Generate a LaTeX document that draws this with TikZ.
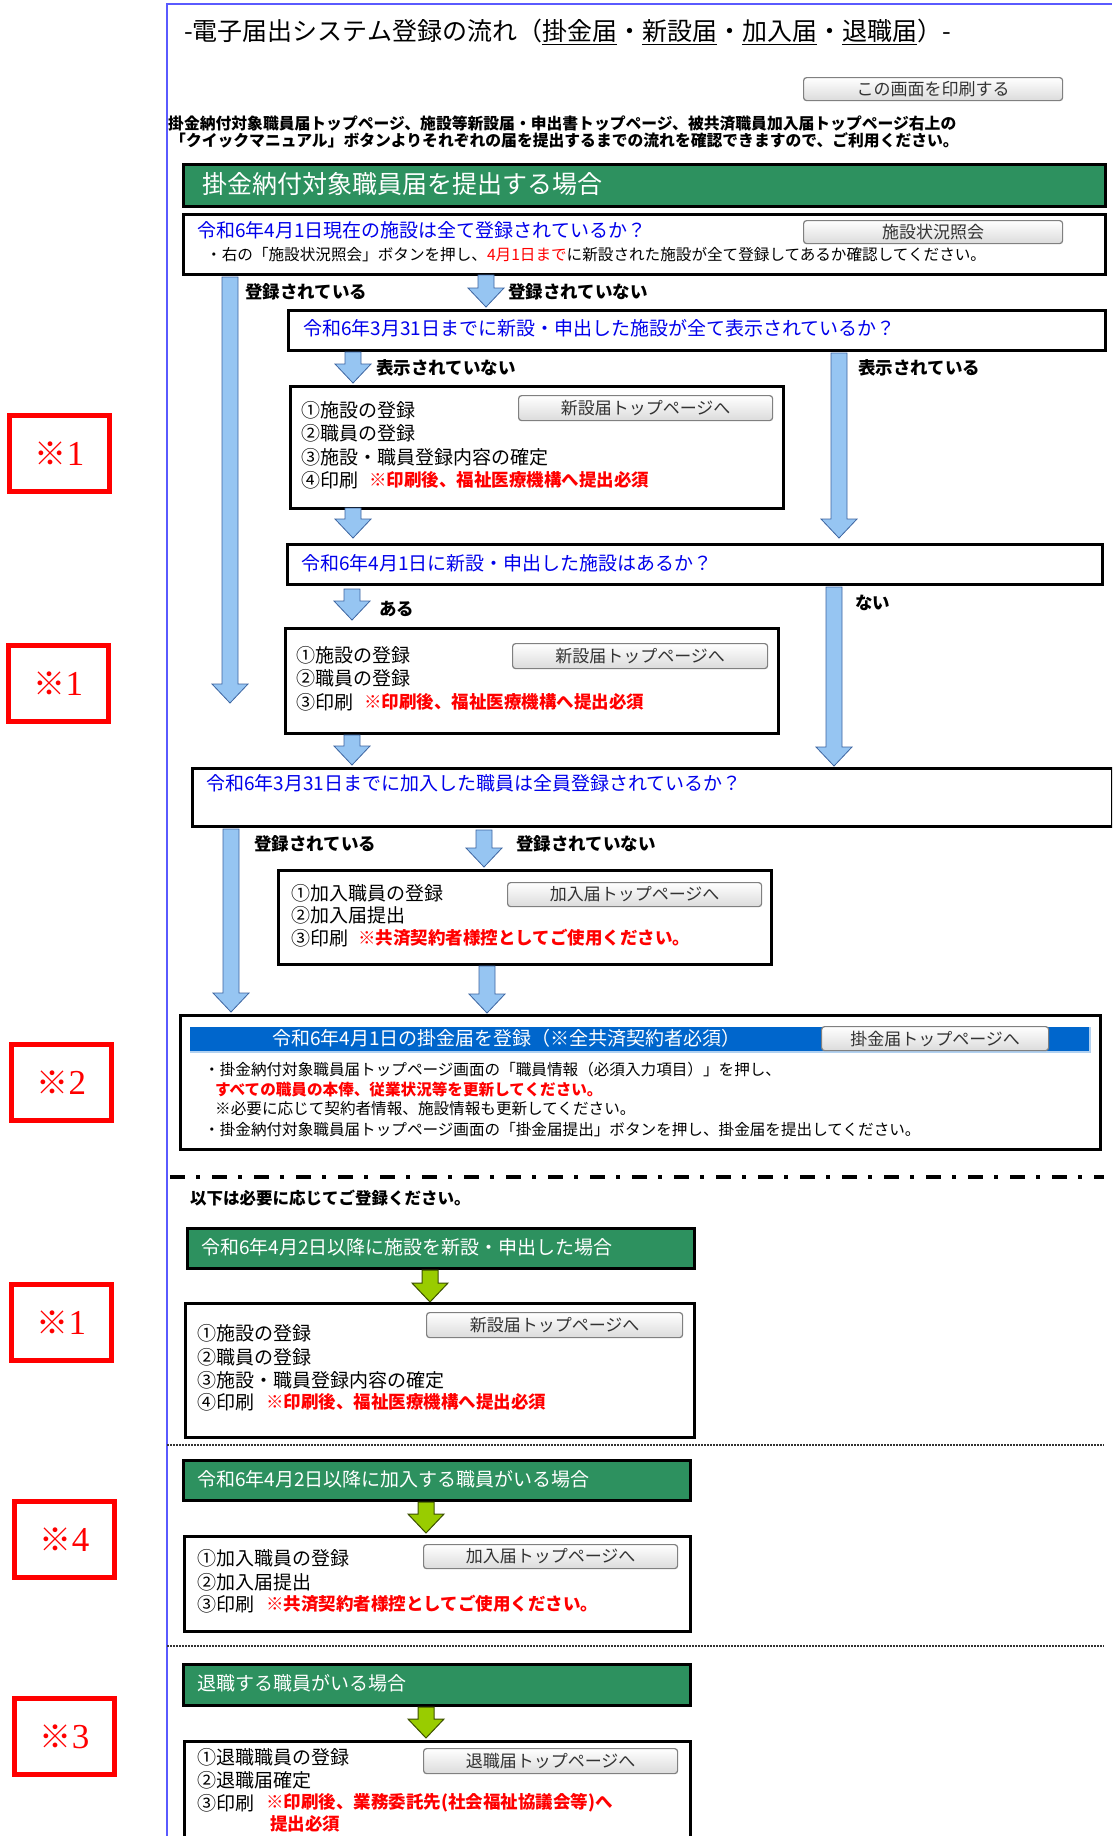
\documentclass[tikz,border=0pt]{standalone}
\usepackage{fontspec}
\setmainfont{Noto Sans CJK JP}
\newfontfamily\serifd{Liberation Serif}
\usetikzlibrary{calc}
\newcommand{\fsz}[1]{\fontsize{#1pt}{#1pt}\selectfont}
\definecolor{qblue}{RGB}{0,0,235}
\definecolor{myred}{RGB}{255,0,0}
\definecolor{greenbar}{RGB}{45,145,95}
\definecolor{hdrblue}{RGB}{0,102,204}
\definecolor{arrfill}{RGB}{150,197,242}
\definecolor{arrline}{RGB}{60,100,160}
\definecolor{garrfill}{RGB}{153,204,0}
\definecolor{garrline}{RGB}{60,80,0}
\definecolor{frameblue}{RGB}{90,90,255}
\definecolor{btnline}{RGB}{128,128,128}
\tikzset{
  qbox/.style={draw=black, line width=3, fill=white, anchor=north west, inner sep=0},
  gbar/.style={draw=black, line width=3, fill=greenbar, anchor=north west, inner sep=0},
  btn/.style={draw=btnline, line width=1.2, rounded corners=3, top color=white, bottom color=black!14, anchor=north west, inner sep=0, text=black!80, font=\fsz{17}},
  itm/.style={anchor=west, inner sep=0, font=\fsz{19}},
  nte/.style={anchor=west, inner sep=0, font=\fsz{17.5}\bfseries, text=myred},
  lbl/.style={anchor=west, inner sep=0, font=\fsz{17.5}\bfseries},
  qtx/.style={anchor=west, inner sep=0, font=\fsz{19}, text=qblue},
  smt/.style={anchor=west, inner sep=0, font=\fsz{15.6}},
  wtx/.style={anchor=west, inner sep=0, text=white},
  rbox/.style={draw=myred, line width=5, anchor=north west, inner sep=0, minimum width=100, minimum height=76, text=myred},
  arrb/.style={fill=arrfill, draw=arrline, line width=0.8},
  arrg/.style={fill=garrfill, draw=garrline, line width=1},
}
\newcommand{\blkarrow}[4]{%
  \draw[#1] ({#2-8},#3) -- ({#2+8},#3) -- ({#2+8},{#4-19}) -- ({#2+18},{#4-19}) -- (#2,#4) -- ({#2-18},{#4-19}) -- ({#2-8},{#4-19}) -- cycle;}
\newcommand{\kome}[1]{{\fsz{32}\bfseries ※}{\serifd\fsz{35}#1}}
\begin{document}
\begin{tikzpicture}[x=1pt,y=-1pt]
\useasboundingbox (0,0) rectangle (1112,1836);
\clip (0,0) rectangle (1112,1836);
\fill[white] (0,0) rectangle (1112,1836);
\draw[frameblue, line width=1.5] (167,1836) -- (167,4) -- (1112,4);

% title and intro
\node[anchor=west, inner sep=0, font=\fsz{25}] (title) at (184,32) {-電子届出システム登録の流れ（\underline{掛金届}・\underline{新設届}・\underline{加入届}・\underline{退職届}）-};
\node[btn, minimum width=259, minimum height=23] (bprint) at (803,77) {この画面を印刷する};
\node[anchor=west, inner sep=0, font=\fsz{15.8}\bfseries] (intro1) at (168,123) {掛金納付対象職員届トップページ、施設等新設届・申出書トップページ、被共済職員加入届トップページ右上の};
\node[anchor=west, inner sep=0, font=\fsz{15.8}\bfseries] (intro2) at (170,140) {「クイックマニュアル」ボタンよりそれぞれの届を提出するまでの流れを確認できますので、ご利用ください。};

% green bar 1
\node[gbar, minimum width=922, minimum height=42] (g1) at (182,163) {};
\node[wtx, font=\fsz{25}] (g1t) at (202,184) {掛金納付対象職員届を提出する場合};

% box 1
\node[qbox, minimum width=922, minimum height=60] (q1) at (182,213) {};
\node[qtx] (q1t) at (197,230) {令和6年4月1日現在の施設は全て登録されているか？};
\node[btn, minimum width=259, minimum height=23] (bq1) at (803,220) {施設状況照会};
\node[smt] (q1s) at (206,255) {・右の「施設状況照会」ボタンを押し、\textcolor{myred}{4月1日まで}に新設された施設が全て登録してあるか確認してください。};

% arrows row 1
\blkarrow{arrb}{230}{277}{703}
\blkarrow{arrb}{486}{275}{307}
\node[lbl] (l1a) at (245,292) {登録されている};
\node[lbl] (l1b) at (508,292) {登録されていない};

% box 2
\node[qbox, minimum width=817, minimum height=40] (q2) at (287,309) {};
\node[qtx] (q2t) at (303,328) {令和6年3月31日までに新設・申出した施設が全て表示されているか？};

\blkarrow{arrb}{353}{352}{383}
\blkarrow{arrb}{839}{353}{538}
\node[lbl] (l2a) at (376,368) {表示されていない};
\node[lbl] (l2b) at (858,368) {表示されている};

% box 3
\node[qbox, minimum width=493, minimum height=122] (q3) at (289,385) {};
\node[btn, minimum width=254, minimum height=25] (bq3) at (518,395) {新設届トップページへ};
\node[itm] (q3a) at (301,410) {①施設の登録};
\node[itm] (q3b) at (301,433) {②職員の登録};
\node[itm] (q3c) at (301,457) {③施設・職員登録内容の確定};
\node[itm] (q3d) at (301,480) {④印刷};
\node[nte] (q3n) at (369,480) {※印刷後、福祉医療機構へ提出必須};

\blkarrow{arrb}{353}{508}{538}

% box 4
\node[qbox, minimum width=815, minimum height=40] (q4) at (286,543) {};
\node[qtx] (q4t) at (301,563) {令和6年4月1日に新設・申出した施設はあるか？};

\blkarrow{arrb}{352}{589}{620}
\blkarrow{arrb}{834}{587}{766}
\node[lbl] (l3a) at (379,609) {ある};
\node[lbl] (l3b) at (855,603) {ない};

% box 5
\node[qbox, minimum width=493, minimum height=105] (q5) at (284,627) {};
\node[btn, minimum width=255, minimum height=25] (bq5) at (512,643) {新設届トップページへ};
\node[itm] (q5a) at (296,655) {①施設の登録};
\node[itm] (q5b) at (296,678) {②職員の登録};
\node[itm] (q5c) at (296,702) {③印刷};
\node[nte] (q5n) at (364,702) {※印刷後、福祉医療機構へ提出必須};

\blkarrow{arrb}{352}{735}{765}

% box 6
\node[qbox, minimum width=920, minimum height=58] (q6) at (191,767) {};
\node[qtx] (q6t) at (206,783) {令和6年3月31日までに加入した職員は全員登録されているか？};

\blkarrow{arrb}{231}{829}{1012}
\blkarrow{arrb}{484}{830}{867}
\node[lbl] (l4a) at (254,844) {登録されている};
\node[lbl] (l4b) at (516,844) {登録されていない};

% box 7
\node[qbox, minimum width=493, minimum height=94] (q7) at (277,869) {};
\node[btn, minimum width=254, minimum height=24] (bq7) at (507,882) {加入届トップページへ};
\node[itm] (q7a) at (291,893) {①加入職員の登録};
\node[itm] (q7b) at (291,915) {②加入届提出};
\node[itm] (q7c) at (291,938) {③印刷};
\node[nte] (q7n) at (358,938) {※共済契約者様控としてご使用ください。};

\blkarrow{arrb}{487}{966}{1013}

% box 8
\node[qbox, minimum width=920, minimum height=134] (q8) at (179,1014) {};
\fill[hdrblue] (190,1027) rectangle (1090,1052);
\draw[white!70!hdrblue, line width=1.5] (190,1052) -- (1090,1052) -- (1090,1027);
\node[wtx, font=\fsz{19}] (q8h) at (272,1038) {令和6年4月1日の掛金届を登録（※全共済契約者必須）};
\node[btn, minimum width=227, minimum height=24] (bq8) at (821,1026) {掛金届トップページへ};
\node[smt] (q8a) at (204,1070) {・掛金納付対象職員届トップページ画面の「職員情報（必須入力項目）」を押し、};
\node[smt, font=\fsz{15.6}\bfseries, text=myred] (q8b) at (215,1090) {すべての職員の本俸、従業状況等を更新してください。};
\node[smt] (q8c) at (215,1109) {※必要に応じて契約者情報、施設情報も更新してください。};
\node[smt] (q8d) at (204,1130) {・掛金納付対象職員届トップページ画面の「掛金届提出」ボタンを押し、掛金届を提出してください。};

% separator
\draw[black, line width=3.5, dash pattern=on 15 off 11 on 4 off 12] (170,1177) -- (1104,1177);
\node[anchor=west, inner sep=0, font=\fsz{16.5}\bfseries] (below) at (190,1198) {以下は必要に応じてご登録ください。};

% green bar 2 + box 9
\node[gbar, minimum width=507, minimum height=40] (g2) at (186,1227) {};
\node[wtx, font=\fsz{19}] (g2t) at (201,1247) {令和6年4月2日以降に施設を新設・申出した場合};
\blkarrow{arrg}{430}{1270}{1302}
\node[qbox, minimum width=509, minimum height=134] (q9) at (184,1302) {};
\node[btn, minimum width=256, minimum height=25] (bq9) at (426,1312) {新設届トップページへ};
\node[itm] (q9a) at (197,1333) {①施設の登録};
\node[itm] (q9b) at (197,1357) {②職員の登録};
\node[itm] (q9c) at (197,1380) {③施設・職員登録内容の確定};
\node[itm] (q9d) at (197,1402) {④印刷};
\node[nte] (q9n) at (266,1402) {※印刷後、福祉医療機構へ提出必須};

\draw[black!80, line width=2, dash pattern=on 1.5 off 1.5] (167,1445) -- (1104,1445);

% green bar 3 + box 10
\node[gbar, minimum width=507, minimum height=40] (g3) at (182,1459) {};
\node[wtx, font=\fsz{19}] (g3t) at (197,1479) {令和6年4月2日以降に加入する職員がいる場合};
\blkarrow{arrg}{426}{1502}{1533}
\node[qbox, minimum width=506, minimum height=95] (q10) at (183,1535) {};
\node[btn, minimum width=254, minimum height=24] (bq10) at (423,1544) {加入届トップページへ};
\node[itm] (q10a) at (197,1558) {①加入職員の登録};
\node[itm] (q10b) at (197,1582) {②加入届提出};
\node[itm] (q10c) at (197,1604) {③印刷};
\node[nte] (q10n) at (266,1604) {※共済契約者様控としてご使用ください。};

\draw[black!80, line width=2, dash pattern=on 1.5 off 1.5] (167,1646) -- (1104,1646);

% green bar 4 + box 11
\node[gbar, minimum width=507, minimum height=41] (g4) at (182,1663) {};
\node[wtx, font=\fsz{19}] (g4t) at (197,1683) {退職する職員がいる場合};
\blkarrow{arrg}{426}{1707}{1738}
\node[qbox, minimum width=506, minimum height=150] (q11) at (183,1740) {};
\node[btn, minimum width=254, minimum height=25] (bq11) at (423,1748) {退職届トップページへ};
\node[itm] (q11a) at (197,1757) {①退職職員の登録};
\node[itm] (q11b) at (197,1780) {②退職届確定};
\node[itm] (q11c) at (197,1803) {③印刷};
\node[nte] (q11n) at (266,1803) {※印刷後、業務委託先(社会福祉協議会等)へ};
\node[nte] (q11m) at (270,1824) {提出必須};

% red reference boxes
\node[rbox] (r1) at (7,413) {\kome{1}};
\node[rbox] (r2) at (6,643) {\kome{1}};
\node[rbox] (r3) at (9,1042) {\kome{2}};
\node[rbox] (r4) at (9,1282) {\kome{1}};
\node[rbox] (r5) at (12,1499) {\kome{4}};
\node[rbox] (r6) at (12,1696) {\kome{3}};
\end{tikzpicture}
\end{document}
